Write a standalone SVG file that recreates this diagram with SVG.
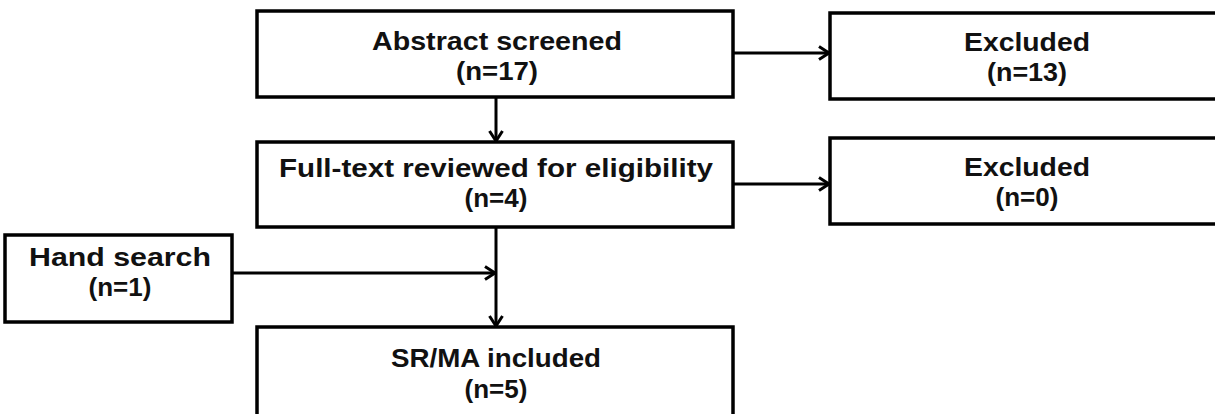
<svg xmlns="http://www.w3.org/2000/svg" width="1215" height="414" viewBox="0 0 1215 414">
<style>
.box{fill:#fff;stroke:#000;stroke-width:3.5}
.t{font-family:"Liberation Sans",Arial,sans-serif;font-weight:bold;font-size:26px;fill:#111;text-anchor:middle}
.c{fill:none;stroke:#000;stroke-width:3}
</style>
<defs>
<marker id="ah" markerWidth="14" markerHeight="16" refX="12" refY="8" orient="auto" markerUnits="userSpaceOnUse">
<path d="M2,1.5 L12,8 L2,14.5" fill="none" stroke="#000" stroke-width="3"/>
</marker>
</defs>
<rect width="1215" height="414" fill="#fff"/>
<g id="connectors">
<line class="c" x1="733" y1="53" x2="829" y2="53" marker-end="url(#ah)"/>
<line class="c" x1="496" y1="97" x2="496" y2="141" marker-end="url(#ah)"/>
<line class="c" x1="733" y1="184" x2="829" y2="184" marker-end="url(#ah)"/>
<line class="c" x1="496" y1="227" x2="496" y2="326" marker-end="url(#ah)"/>
<line class="c" x1="232" y1="273" x2="495" y2="273" marker-end="url(#ah)"/>
</g>
<g id="abstract">
<rect class="box" x="257" y="11" width="476" height="86"/>
<text class="t" x="497" y="50" textLength="250" lengthAdjust="spacingAndGlyphs">Abstract screened</text>
<text class="t" x="497" y="80" textLength="82" lengthAdjust="spacingAndGlyphs">(n=17)</text>
</g>
<g id="excluded1">
<rect class="box" x="830" y="13" width="400" height="86"/>
<text class="t" x="1027" y="51" textLength="126" lengthAdjust="spacingAndGlyphs">Excluded</text>
<text class="t" x="1027" y="81" textLength="80" lengthAdjust="spacingAndGlyphs">(n=13)</text>
</g>
<g id="fulltext">
<rect class="box" x="257" y="142" width="476" height="85"/>
<text class="t" x="496" y="177" textLength="434" lengthAdjust="spacingAndGlyphs">Full-text reviewed for eligibility</text>
<text class="t" x="496" y="207">(n=4)</text>
</g>
<g id="excluded2">
<rect class="box" x="830" y="138" width="400" height="86"/>
<text class="t" x="1027" y="176" textLength="126" lengthAdjust="spacingAndGlyphs">Excluded</text>
<text class="t" x="1027" y="206">(n=0)</text>
</g>
<g id="hand">
<rect class="box" x="5" y="235" width="227" height="87"/>
<text class="t" x="120" y="266" textLength="182" lengthAdjust="spacingAndGlyphs">Hand search</text>
<text class="t" x="120" y="296">(n=1)</text>
</g>
<g id="included">
<rect class="box" x="257" y="327" width="476" height="100"/>
<text class="t" x="496" y="367" textLength="210" lengthAdjust="spacingAndGlyphs">SR/MA included</text>
<text class="t" x="496" y="398">(n=5)</text>
</g>
</svg>
